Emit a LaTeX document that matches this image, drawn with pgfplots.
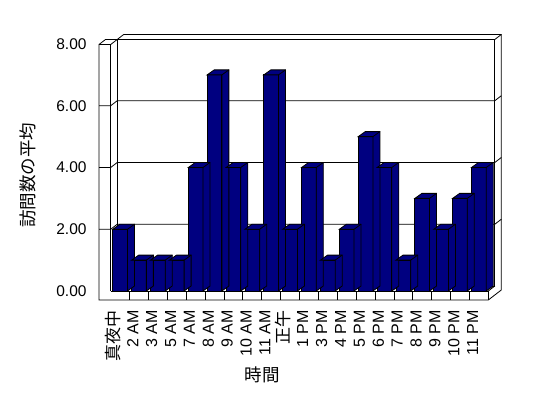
\documentclass[border=0pt]{standalone}
\usepackage{pgfplots}
\pgfplotsset{compat=1.18}
\usepackage{pgfplotstable}
\usepackage{fontspec}
\setmainfont{Liberation Sans}
\newfontfamily\cjk{Noto Sans CJK JP}
\definecolor{barnavy}{RGB}{0,0,128}

\pgfplotstableread{
idx v
0 2
1 1
2 1
3 1
4 4
5 7
6 4
7 2
8 7
9 2
10 4
11 1
12 2
13 5
14 4
15 1
16 3
17 2
18 3
19 4
}\datatable

% side and top faces of a 3D column; the mark sits at the front top centre
\pgfdeclareplotmark{bar3d}{%
  \pgfmathsetlengthmacro\ybot{-\barval*30.875pt}%
  \pgfmathsetlengthmacro\ybotb{5pt-\barval*30.875pt}%
  \pgfpathmoveto{\pgfpoint{-7.35pt}{0pt}}%
  \pgfpathlineto{\pgfpoint{-0.35pt}{5pt}}%
  \pgfpathlineto{\pgfpoint{14.35pt}{5pt}}%
  \pgfpathlineto{\pgfpoint{14.35pt}{\ybotb}}%
  \pgfpathlineto{\pgfpoint{7.35pt}{\ybot}}%
  \pgfpathlineto{\pgfpoint{7.35pt}{0pt}}%
  \pgfpathclose
  \pgfusepathqfillstroke
  \pgfpathmoveto{\pgfpoint{7.35pt}{0pt}}%
  \pgfpathlineto{\pgfpoint{14.35pt}{5pt}}%
  \pgfusepathqstroke
}

\begin{document}
\begin{tikzpicture}
\fill[white] (0,0) rectangle (548pt,398pt);
\path[use as bounding box] (0,0) rectangle (548pt,398pt);
% 3D frame (walls and floor), in picture pixel coordinates
\begin{scope}[x=1pt,y=-1pt,shift={(0pt,398pt)},line width=0.8pt,line join=miter]
  \filldraw[fill=white,draw=black] (99,300) -- (99,44.5) -- (105.5,39.5) -- (117.2,39.5)
     -- (123.7,34.5) -- (501.3,34.5) -- (501.3,290) -- (488.3,300) -- cycle;
  \draw (99,44.5) -- (110.7,44.5) -- (117.2,39.5);
  \draw (110.7,44.5) -- (110.7,291);
  \draw (117.2,39.5) -- (117.2,286);
  \draw (117.2,39.5) -- (494.8,39.5) -- (494.8,286);
  \draw (494.8,39.5) -- (501.3,34.5);
  \draw (110.7,291) -- (488.3,291) -- (488.3,300);
  \draw (488.3,291) -- (494.8,286);
  \draw (117.2,286) -- (494.8,286);
  \foreach \v in {2,4,6} {
    \draw (99,{291-\v*30.875}) -- (110.7,{291-\v*30.875}) -- (117.2,{286-\v*30.875})
      -- (494.8,{286-\v*30.875}) -- (501.3,{281-\v*30.875});
  }
  \foreach \k in {1,...,19} {
    \draw ({110.7+\k*18.88},291) -- ({110.7+\k*18.88},300);
  }
\end{scope}
\begin{axis}[
  at={(110.7pt,107pt)}, anchor=south west,
  scale only axis, width=377.6pt, height=247pt,
  xmin=-0.5, xmax=19.5, ymin=0, ymax=8,
  clip=false,
  axis line style={draw=none}, tick style={draw=none},
  /pgf/number format/assume math mode=true,
  ytick={0,2,4,6,8},
  yticklabels={0.00,2.00,4.00,6.00,8.00},
  yticklabel style={font=\fontsize{15.5}{15.5}\selectfont, inner sep=0pt, anchor=east, xshift=-24pt},
  xtick={0,...,19},
  xticklabels={{\fontsize{17}{17}\cjk 真夜中},2 AM,3 AM,5 AM,7 AM,8 AM,9 AM,10 AM,11 AM,{\fontsize{17}{17}\cjk 正午},1 PM,3 PM,4 PM,5 PM,6 PM,7 PM,8 PM,9 PM,10 PM,11 PM},
  xticklabel style={font=\fontsize{16}{16}\selectfont, inner sep=0pt, yshift=-19pt, xshift=-0.7pt, rotate=90, anchor=base east},
  xlabel={\cjk 時間},
  xlabel style={font=\fontsize{17.5}{17.5}\selectfont, at={(axis description cs:0.4007,-0.340)}, anchor=center},
  ylabel={\cjk 訪問数の平均},
  ylabel style={font=\fontsize{17.5}{17.5}\selectfont, at={(axis description cs:-0.2203,0.4696)}, anchor=center, rotate=0},
]
\addplot[only marks, mark=bar3d,
  mark options={fill=barnavy, draw=black, line width=0.8pt, solid},
  visualization depends on={\thisrow{v} \as \barval}]
  table[x=idx, y=v] {\datatable};
\addplot[ybar, bar width=0.7786, fill=barnavy, draw=black, line width=0.8pt]
  table[x=idx, y=v] {\datatable};
\end{axis}
\end{tikzpicture}
\end{document}
